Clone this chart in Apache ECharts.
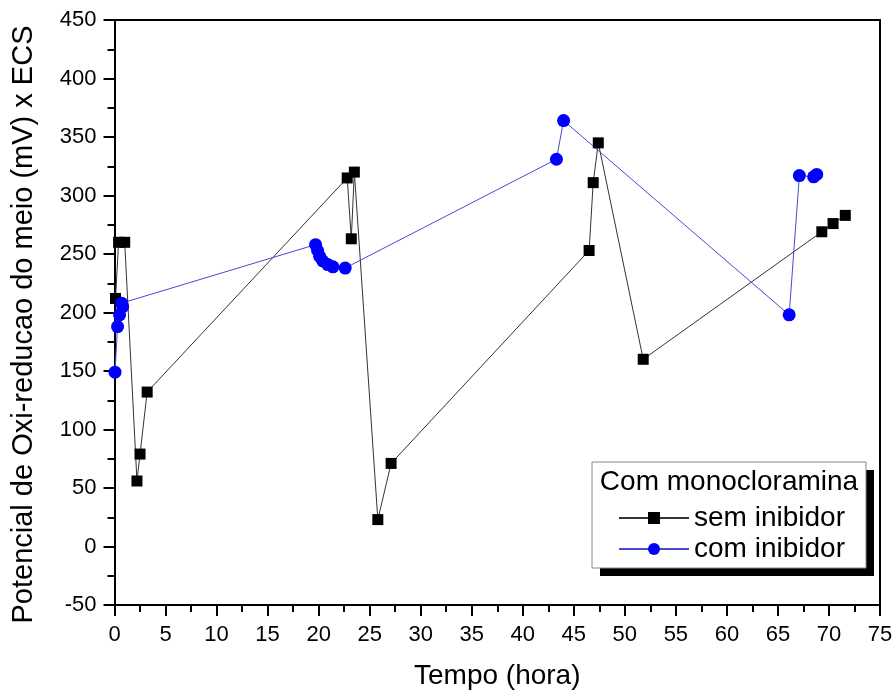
<!DOCTYPE html>
<html>
<head>
<meta charset="utf-8">
<script src="https://cdn.jsdelivr.net/npm/echarts@6/dist/echarts.min.js"></script>
<style>
  html, body { margin: 0; padding: 0; background: #fff; }
  #chart { width: 896px; height: 700px; }
</style>
</head>
<body>
<div id="chart"></div>
<script>
const semInibidor = [
  [0.1, 212], [0.4, 260], [1.0, 260], [2.2, 56], [2.5, 79], [3.2, 132],
  [22.8, 315], [23.2, 263], [23.5, 320], [25.8, 23], [27.1, 71],
  [46.5, 253], [46.9, 311], [47.4, 345], [51.8, 160],
  [69.3, 269], [70.4, 276], [71.6, 283]
]
const comInibidor = [
  [0.05, 149], [0.3, 188], [0.5, 198], [0.8, 205], [0.7, 208],
  [19.7, 258], [19.9, 253], [20.1, 248], [20.4, 244], [20.9, 241], [21.4, 239], [22.6, 238],
  [43.3, 331], [44.0, 364], [66.1, 198], [67.1, 317], [68.5, 316], [68.8, 318]
]
const seriesNames = ['sem inibidor', 'com inibidor']
const legendTitle = 'Com monocloramina'
const xName = 'Tempo (hora)'
const yName = 'Potencial de Oxi-reducao do meio (mV) x ECS'

const font = 'Liberation Sans, Arial, sans-serif'
const chart = echarts.init(document.getElementById('chart'))

const frameAxis = {
  axisLine: { show: true, onZero: false, lineStyle: { color: '#000', width: 2 } },
  axisTick: { show: false },
  axisLabel: { show: false },
  splitLine: { show: false }
}

const option = {
  backgroundColor: '#fff',
  animation: false,
  grid: { left: 114.5, right: 16, top: 20, bottom: 95 },
  xAxis: [
    {
      type: 'value',
      min: 0,
      max: 75,
      interval: 5,
      name: xName,
      nameLocation: 'middle',
      nameGap: 57,
      nameTextStyle: { color: '#000', fontSize: 28, fontFamily: font },
      axisLine: { onZero: false, lineStyle: { color: '#000', width: 2 } },
      axisTick: { length: 11, lineStyle: { color: '#000', width: 2 } },
      minorTick: { show: true, splitNumber: 2, length: 7, lineStyle: { color: '#000', width: 2 } },
      axisLabel: { color: '#000', fontSize: 22, fontFamily: font, margin: 19 },
      splitLine: { show: false }
    },
    Object.assign({ type: 'value', min: 0, max: 75, position: 'top' }, frameAxis)
  ],
  yAxis: [
    {
      type: 'value',
      min: -50,
      max: 450,
      interval: 50,
      name: yName,
      nameLocation: 'middle',
      nameGap: 76,
      nameTextStyle: { color: '#000', fontSize: 29, fontFamily: font, padding: [0, 24, 0, 0] },
      axisLine: { onZero: false, lineStyle: { color: '#000', width: 2 } },
      axisTick: { length: 11, lineStyle: { color: '#000', width: 2 } },
      minorTick: { show: true, splitNumber: 2, length: 7, lineStyle: { color: '#000', width: 2 } },
      axisLabel: { color: '#000', fontSize: 22, fontFamily: font, margin: 18 },
      splitLine: { show: false }
    },
    Object.assign({ type: 'value', min: -50, max: 450, position: 'right' }, frameAxis)
  ],
  graphic: [
    { type: 'rect', z: 1, shape: { x: 600, y: 470, width: 274, height: 106 }, style: { fill: '#000' } },
    { type: 'rect', z: 1, shape: { x: 592, y: 462, width: 274, height: 106 }, style: { fill: '#fff', stroke: '#888', lineWidth: 1 } },
    {
      type: 'text', z: 2, x: 729, y: 482,
      style: { text: legendTitle, fill: '#000', font: '28px ' + font, align: 'center', verticalAlign: 'middle' }
    }
  ],
  legend: {
    orient: 'vertical',
    left: 613,
    top: 499,
    itemWidth: 70,
    itemHeight: 15,
    itemGap: 3,
    textStyle: { color: '#000', fontSize: 28, fontFamily: font },
    data: seriesNames
  },
  series: [
    {
      name: seriesNames[0],
      type: 'line',
      data: semInibidor,
      symbol: 'rect',
      symbolSize: 11,
      itemStyle: { color: '#000' },
      lineStyle: { color: '#333', width: 1 }
    },
    {
      name: seriesNames[1],
      type: 'line',
      data: comInibidor,
      symbol: 'circle',
      symbolSize: 13,
      itemStyle: { color: '#0000ff' },
      lineStyle: { color: '#4a4ad0', width: 1 }
    }
  ]
}

chart.setOption(option)
</script>
</body>
</html>
